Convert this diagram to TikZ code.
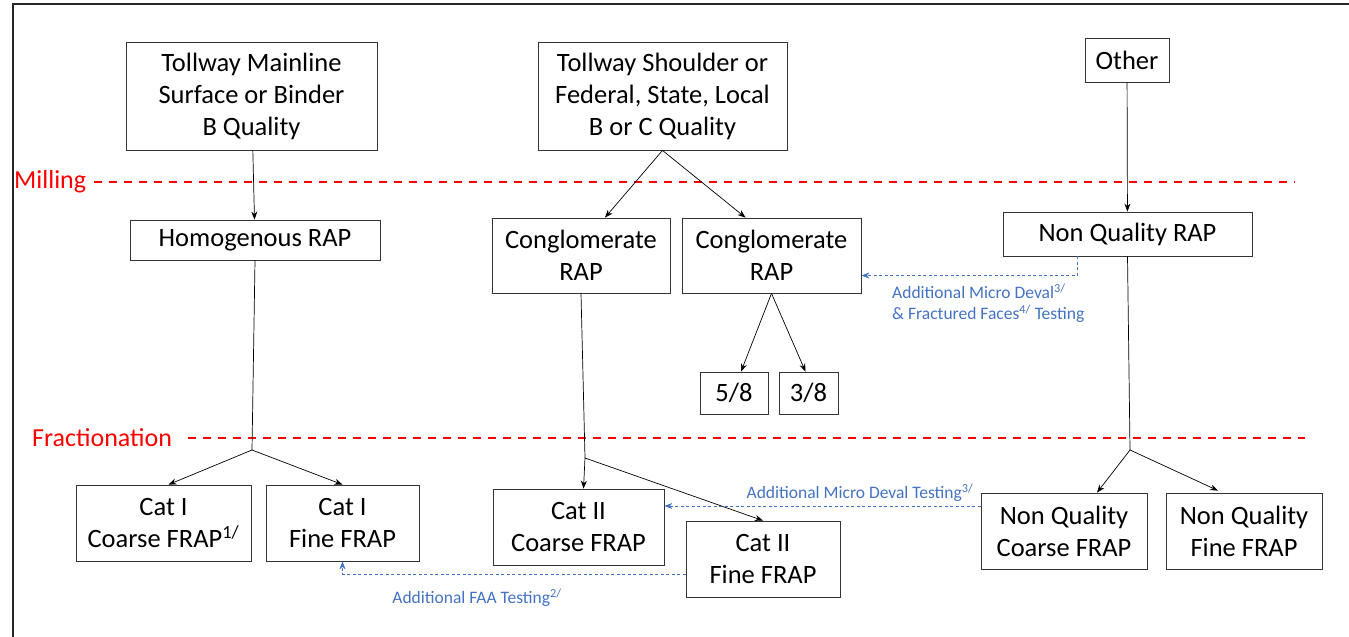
\documentclass[tikz,border=0pt]{standalone}
\usepackage{fontspec}
\setmainfont{Carlito}
\usepackage{xcolor}
\usepackage{tikz}
\usetikzlibrary{shapes,arrows,arrows.meta,positioning,calc}
\definecolor{testblue}{RGB}{68,114,196}
\tikzstyle{block} = [rectangle, draw=black!80, line width=0.8pt, align=center, inner sep=2pt, font=\fontsize{26.5}{32}\selectfont]
\tikzstyle{arrow} = [line width=0.7pt,->,>={Stealth[length=8pt,width=6pt]}]
\tikzstyle{testarrow} = [testblue, line width=0.7pt, dash pattern=on 3pt off 2.5pt,->,>={Stealth[length=8pt,width=6pt]}]
\tikzstyle{stage} = [red, line width=1.1pt, dash pattern=on 8pt off 7pt]
\tikzstyle{stagename} = [red, anchor=west, inner sep=0pt, font=\fontsize{26}{30}\selectfont]
\tikzstyle{testnote} = [testblue, inner sep=0pt, align=left, font=\fontsize{17.5}{21}\selectfont]

\begin{document}
\begin{tikzpicture}[x=1pt, y=-1pt]
\useasboundingbox (0,0) rectangle (1349,637);
\draw[black!85, line width=1.5pt] (13,640) -- (13,4) -- (1352,4);

% Sources
\node (mainline) [block, minimum width=251pt, minimum height=108pt] at (251.5,96) {Tollway Mainline\\Surface or Binder\\B Quality};
\node (shoulder) [block, minimum width=249pt, minimum height=108pt] at (662.5,96) {Tollway Shoulder or\\Federal, State, Local\\B or C Quality};
\node (other) [block, minimum width=84pt, minimum height=44pt] at (1127,60) {Other};

% Milling
\node (milling) [stagename] at (14,182) {Milling};
\draw [stage] ($(milling.east)+(8,0)$) -- (1295,182);

\node (homrap) [block, minimum width=250pt, minimum height=40pt] at (255,240) {Homogenous RAP};
\node (conga) [block, minimum width=178pt, minimum height=75pt] at (581,255.5) {Conglomerate\\RAP};
\node (congb) [block, minimum width=179pt, minimum height=75pt] at (771.5,255.5) {Conglomerate\\RAP};
\node (nqrap) [block, minimum width=249pt, minimum height=44pt] at (1127.5,234) {Non Quality RAP};
\node (fivee) [block, minimum width=68pt, minimum height=42pt] at (734,393) {5/8};
\node (threee) [block, minimum width=59pt, minimum height=42pt] at (808.5,393) {3/8};

% Fractionation
\node (fraction) [stagename] at (32,438) {Fractionation};
\draw [stage] ($(fraction.east)+(16,0)$) -- (1305,438);

\node (catIc) [block, minimum width=175pt, minimum height=76pt] at (163.5,523) {Cat I\\Coarse FRAP\textsuperscript{1/}};
\node (catIf) [block, minimum width=153pt, minimum height=76pt] at (342.5,523) {Cat I\\Fine FRAP};
\node (catIIc) [block, minimum width=171pt, minimum height=76pt] at (578.5,527) {Cat II\\Coarse FRAP};
\node (catIIf) [block, minimum width=154pt, minimum height=76pt] at (763,559) {Cat II\\Fine FRAP};
\node (nqc) [block, minimum width=166pt, minimum height=76pt] at (1064,531) {Non Quality\\Coarse FRAP};
\node (nqf) [block, minimum width=156pt, minimum height=76pt] at (1244,531) {Non Quality\\Fine FRAP};

% Splits
\coordinate (splitI) at (252,450);
\coordinate (splitII) at (585,458);
\coordinate (splitNQ) at (1130,450);

% Relations
\draw [arrow] (mainline) -- (homrap);
\draw [arrow] (shoulder.south) -- ($(conga.north)+(24,0)$);
\draw [arrow] (shoulder.south) -- ($(congb.north)+(-26,0)$);
\draw [arrow] (other) -- (nqrap);
\draw [arrow] (congb.south) -- ($(fivee.north)+(7,0)$);
\draw [arrow] (congb.south) -- ($(threee.north)+(-3,0)$);
\draw [line width=0.7pt] (homrap.south) -- (splitI);
\draw [arrow] (splitI) -- ($(catIc.north)+(5,0)$);
\draw [arrow] (splitI) -- (catIf.north);
\draw [line width=0.7pt] (conga.south) -- (splitII);
\draw [arrow] (splitII) -- ($(catIIc.north)+(5,0)$);
\draw [arrow] (splitII) -- (catIIf.north);
\draw [line width=0.7pt] (nqrap.south) -- (splitNQ);
\draw [arrow] (splitNQ) -- ($(nqc.north)+(33,0)$);
\draw [arrow] (splitNQ) -- ($(nqf.north)+(-26,-2)$);

% Tests
\draw [testarrow] ($(nqrap.south west)+(75,0)$) |- ($(congb.east)+(0,20)$);
\draw [testarrow] ($(nqc.west)+(0,-25)$) -- ($(catIIc.east)+(0,-21)$);
\draw [testarrow] ($(catIIf.west)+(0,15)$) -| (catIf.south);
\node (noteA) [testnote, anchor=north west] at (892,284) {Additional Micro Deval\textsuperscript{3/}\\\& Fractured Faces\textsuperscript{4/} Testing};
\node (noteB) [testnote] at (860,493) {Additional Micro Deval Testing\textsuperscript{3/}};
\node (noteC) [testnote] at (477,598) {Additional FAA Testing\textsuperscript{2/}};

\end{tikzpicture}
\end{document}
